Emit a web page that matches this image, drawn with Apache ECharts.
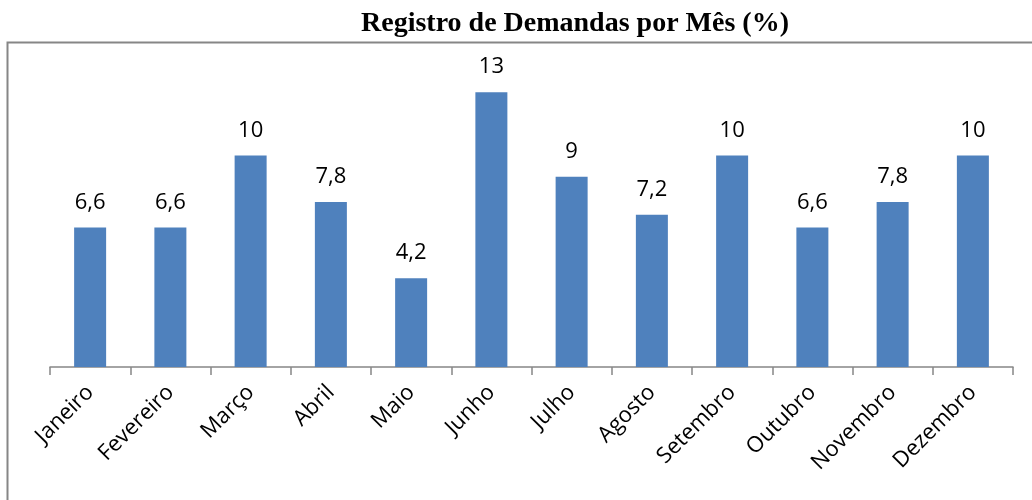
<!DOCTYPE html>
<html><head><meta charset="utf-8">
<script src="https://cdn.jsdelivr.net/npm/echarts@6/dist/echarts.min.js"></script>
<style>html,body{margin:0;padding:0;background:#fff}#c{width:1032px;height:500px}</style>
</head><body><div id="c"></div>
<script>
const months = ['Janeiro','Fevereiro','Março','Abril','Maio','Junho','Julho','Agosto','Setembro','Outubro','Novembro','Dezembro'];
const values = [6.6, 6.6, 10, 7.8, 4.2, 13, 9, 7.2, 10, 6.6, 7.8, 10];
const chart = echarts.init(document.getElementById('c'));
chart.setOption({
  animation: false,
  backgroundColor: '#fff',
  title: {
    text: 'Registro de Demandas por Mês (%)',
    left: 570, top: 5, textAlign: 'center',
    textStyle: {fontFamily: 'Liberation Serif', fontWeight: 'bold', fontSize: 28, color: '#000'}
  },
  graphic: [{
    type: 'rect', shape: {x: 7.5, y: 42.5, width: 1040, height: 480},
    style: {fill: 'none', stroke: '#868686', lineWidth: 2}, silent: true, z: -1
  }],
  grid: {left: 50, right: 19, top: 71, bottom: 133},
  xAxis: {
    type: 'category', data: months,
    axisLine: {lineStyle: {color: '#868686', width: 1.5}},
    axisTick: {show: true, length: 8, lineStyle: {color: '#868686', width: 1.5}},
    axisLabel: {rotate: 45, margin: 22, fontFamily: 'Open Sans', fontSize: 22, color: '#000', interval: 0}
  },
  yAxis: {
    type: 'value', min: 0, max: 14, show: false, splitLine: {show: false}
  },
  series: [{
    type: 'bar', data: values, barWidth: 32,
    itemStyle: {color: '#4F81BD'},
    label: {show: true, position: 'top', distance: 14, fontFamily: 'Open Sans', fontSize: 22, color: '#000',
      formatter: p => String(p.value).replace('.', ',')}
  }]
});
</script></body></html>
